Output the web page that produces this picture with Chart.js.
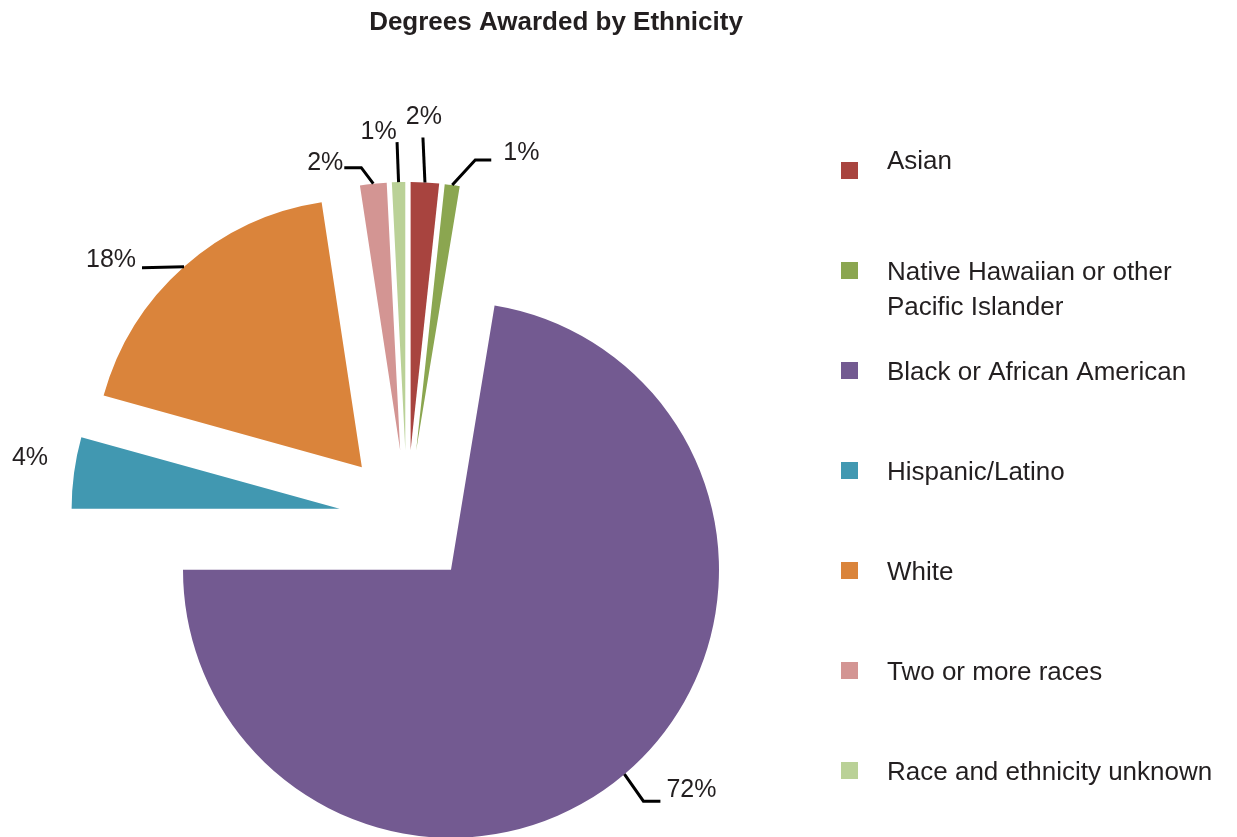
<!DOCTYPE html>
<html>
<head>
<meta charset="utf-8">
<script src="https://cdn.jsdelivr.net/npm/chart.js@4.4.1/dist/chart.umd.min.js"></script>
<style>
  html, body { margin: 0; padding: 0; background: #fff; }
  #wrap { width: 1237px; height: 837px; }
</style>
</head>
<body>
<div id="wrap"><canvas id="ethnicityChart" width="1237" height="837"></canvas></div>
<script>
const chartTitle = 'Degrees Awarded by Ethnicity';
const categories = [
  'Asian',
  'Native Hawaiian or other Pacific Islander',
  'Black or African American',
  'Hispanic/Latino',
  'White',
  'Two or more races',
  'Race and ethnicity unknown'
];
const legendLines = [
  ['Asian'],
  ['Native Hawaiian or other', 'Pacific Islander'],
  ['Black or African American'],
  ['Hispanic/Latino'],
  ['White'],
  ['Two or more races'],
  ['Race and ethnicity unknown']
];
const shares = [1.7, 0.9, 72.4, 4.3, 18.3, 1.6, 0.8];
const sliceColors = ['#A8443F', '#8BA650', '#735A91', '#4198B1', '#DA843B', '#D39593', '#BAD197'];

const FONT = '"Liberation Sans", Arial, sans-serif';
const TEXT = '#231F20';
const PIE_RADIUS = 268;
const EXPLODE = 68;   // how far every slice is pulled out, px

// leader lines: elbow points relative to the slice's outer edge, then where the text sits
const leaders = [
  { pts: [[-2, -45]], text: [-1, -66], align: 'center' },
  { pts: [[23, -25], [39, -25]], text: [51, -33], align: 'left' },
  { pts: [[19, 27], [36, 27]], text: [42, 15], align: 'left' },
  { pts: [], text: [-26, -16], align: 'right' },
  { pts: [[-42, 1]], text: [-48, -8], align: 'right' },
  { pts: [[-12, -16], [-29, -16]], text: [-30, -22], align: 'right' },
  { pts: [[-1.5, -40]], text: [-20, -51], align: 'center' }
];

// Chart.js' own offset also trims the slice angle, so pull each slice out
// along its middle angle instead (Excel style explosion)
const explode = {
  id: 'explode',
  afterDatasetsUpdate(chart) {
    chart.getDatasetMeta(0).data.forEach(arc => {
      const mid = (arc.startAngle + arc.endAngle) / 2;
      arc.x += Math.cos(mid) * EXPLODE;
      arc.y += Math.sin(mid) * EXPLODE;
    });
  }
};

const decorations = {
  id: 'decorations',
  afterDraw(chart) {
    const ctx = chart.ctx;
    ctx.save();
    // title
    ctx.fillStyle = TEXT;
    ctx.font = 'bold 26px ' + FONT;
    ctx.textAlign = 'center';
    ctx.textBaseline = 'middle';
    ctx.fillText(chartTitle, 556, 23);

    // percent labels with leader lines
    const arcs = chart.getDatasetMeta(0).data;
    ctx.font = '25px ' + FONT;
    arcs.forEach((arc, i) => {
      const p = arc.getProps(['x', 'y', 'startAngle', 'endAngle', 'outerRadius']);
      const mid = (p.startAngle + p.endAngle) / 2;
      const sx = p.x + Math.cos(mid) * p.outerRadius;
      const sy = p.y + Math.sin(mid) * p.outerRadius;
      const L = leaders[i];
      if (L.pts.length) {
        ctx.strokeStyle = '#000';
        ctx.lineWidth = 3;
        ctx.beginPath();
        ctx.moveTo(sx, sy);
        L.pts.forEach(q => ctx.lineTo(sx + q[0], sy + q[1]));
        ctx.stroke();
      }
      ctx.fillStyle = TEXT;
      ctx.textAlign = L.align;
      ctx.fillText(Math.round(shares[i]) + '%', sx + L.text[0], sy + L.text[1] + 1);
    });

    // legend
    ctx.font = '26px ' + FONT;
    ctx.textAlign = 'left';
    legendLines.forEach((lines, i) => {
      const top = 162 + i * 100;
      ctx.fillStyle = sliceColors[i];
      ctx.fillRect(841, top, 17, 17);
      ctx.fillStyle = TEXT;
      const ty = i === 0 ? top : top + 11;
      lines.forEach((t, k) => ctx.fillText(t, 887, ty + k * 35));
    });
    ctx.restore();
  }
};

new Chart(document.getElementById('ethnicityChart'), {
  type: 'pie',
  data: {
    labels: categories,
    datasets: [{
      data: shares,
      backgroundColor: sliceColors,
      borderWidth: 0,
      clip: false
    }]
  },
  options: {
    responsive: false,
    animation: false,
    events: [],
    radius: PIE_RADIUS,
    layout: { padding: { left: 0, right: 423, top: 199, bottom: 0 } },
    plugins: {
      legend: { display: false },
      title: { display: false },
      tooltip: { enabled: false }
    }
  },
  plugins: [explode, decorations]
});
</script>
</body>
</html>
